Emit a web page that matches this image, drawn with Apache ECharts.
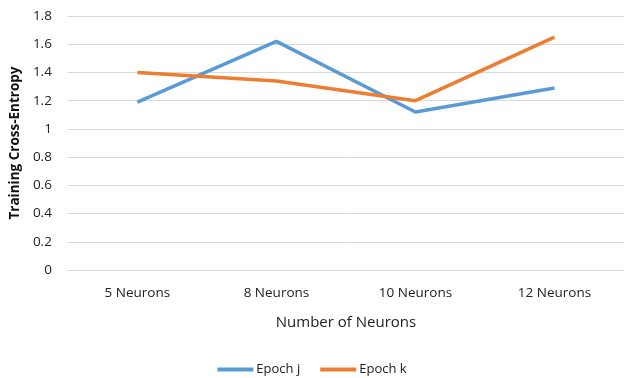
<!DOCTYPE html>
<html>
<head>
<meta charset="utf-8">
<script src="https://cdn.jsdelivr.net/npm/echarts@6/dist/echarts.min.js"></script>
<style>
  html, body { margin: 0; padding: 0; background: #fff; }
  #chart { width: 624px; height: 378px; }
</style>
</head>
<body>
<div id="chart"></div>
<script>
  const categories = ['5 Neurons', '8 Neurons', '10 Neurons', '12 Neurons'];
  const epochJ = [1.19, 1.62, 1.12, 1.29];
  const epochK = [1.40, 1.34, 1.20, 1.65];

  const font = '"Open Sans", "Liberation Sans", sans-serif';
  var myChart = echarts.init(document.getElementById('chart'));

  const option = {
    animation: false,
    textStyle: { fontFamily: font },
    grid: { left: 67, right: 0, top: 16, bottom: 108 },
    legend: {
      bottom: -3,
      left: 'center',
      itemWidth: 36,
      itemHeight: 4,
      itemGap: 20,
      icon: 'rect',
      textStyle: { fontSize: 13, color: '#222', fontFamily: font, padding: [0, 0, 0, -2] },
      data: ['Epoch j', 'Epoch k']
    },
    xAxis: {
      type: 'category',
      data: categories,
      name: 'Number of Neurons',
      nameLocation: 'middle',
      nameGap: 45,
      nameTextStyle: { fontSize: 15, color: '#222', fontFamily: font },
      axisTick: { show: false },
      axisLine: { lineStyle: { color: '#d9d9d9', width: 1 } },
      axisLabel: { fontSize: 13.5, color: '#222', margin: 16, fontFamily: font }
    },
    yAxis: {
      type: 'value',
      min: 0,
      max: 1.8,
      interval: 0.2,
      name: 'Training Cross-Entropy',
      nameLocation: 'middle',
      nameGap: 44,
      nameTextStyle: { fontSize: 13.5, fontWeight: 'bold', color: '#111', fontFamily: font },
      axisLabel: { fontSize: 13.5, color: '#222', margin: 16, fontFamily: font },
      splitLine: { lineStyle: { color: '#d9d9d9', width: 1 } },
      axisLine: { show: false },
      axisTick: { show: false }
    },
    series: [
      {
        name: 'Epoch j',
        type: 'line',
        data: epochJ,
        symbol: 'none',
        color: '#5B9BD5',
        lineStyle: { width: 3.5, color: '#5B9BD5' }
      },
      {
        name: 'Epoch k',
        type: 'line',
        data: epochK,
        symbol: 'none',
        color: '#ED7D31',
        lineStyle: { width: 3.5, color: '#ED7D31' }
      }
    ]
  };

  myChart.setOption(option);
</script>
</body>
</html>
